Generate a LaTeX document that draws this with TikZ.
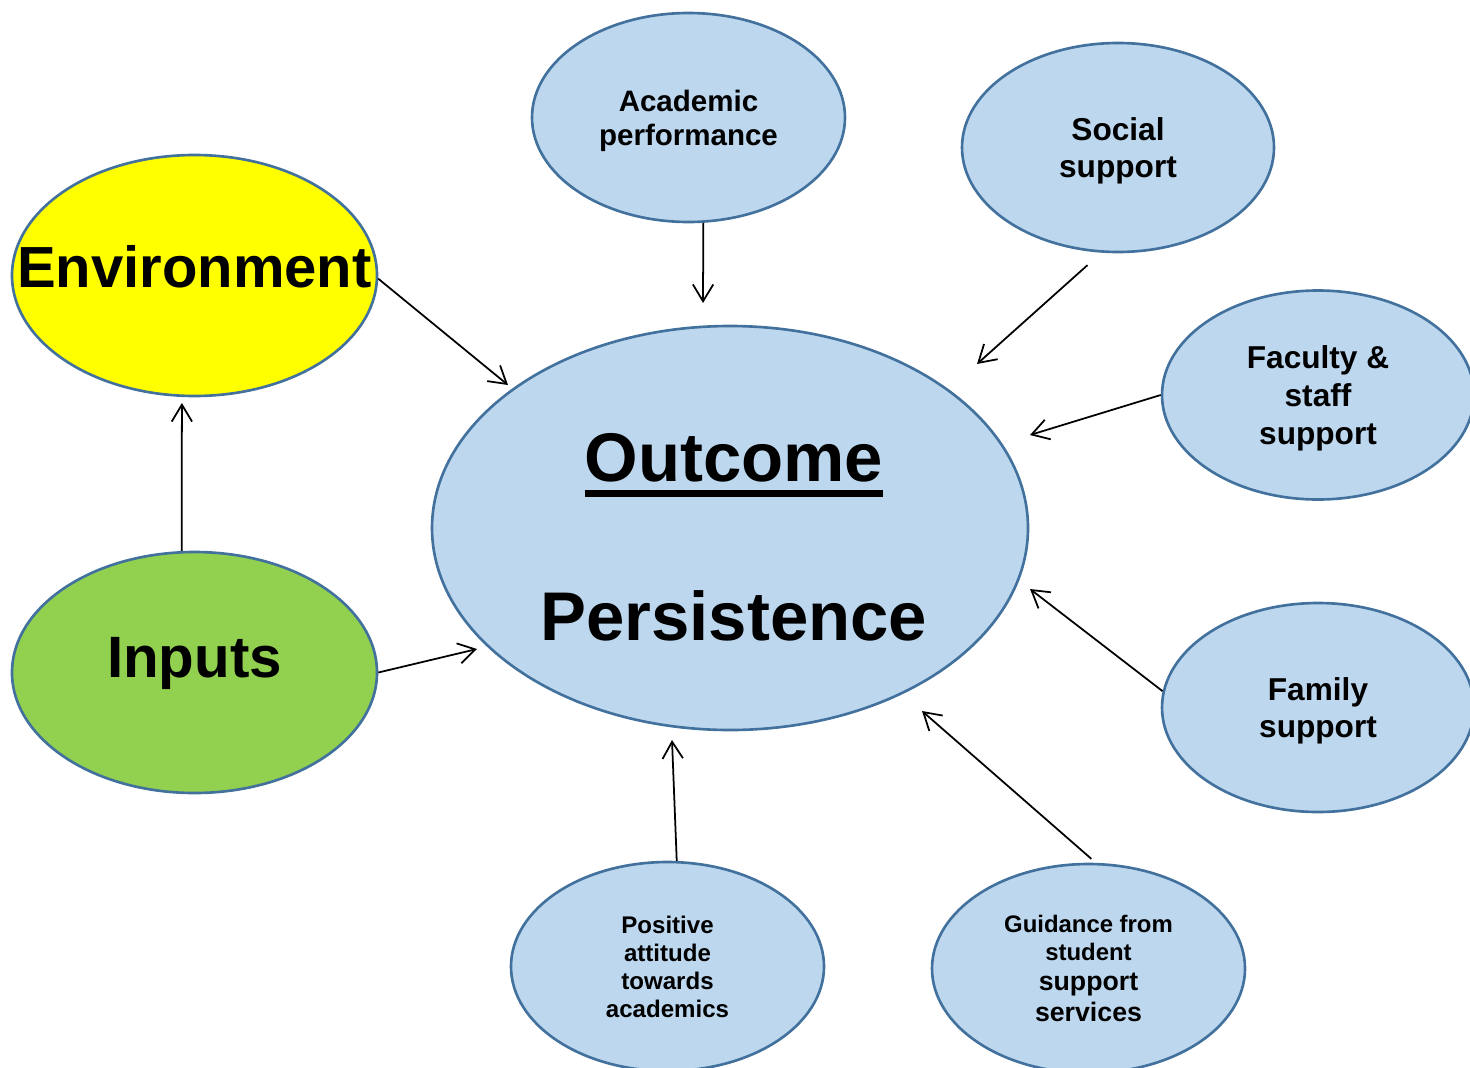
\documentclass[tikz,border=0pt]{standalone}
\usepackage{fontspec}
\setmainfont{Liberation Sans}
\usetikzlibrary{shapes.geometric, arrows.meta}

\definecolor{bubblefill}{HTML}{BDD7EE}
\definecolor{bubbleline}{HTML}{41719C}
\definecolor{envyellow}{HTML}{FFFF00}
\definecolor{inpgreen}{HTML}{92D050}

% heavy underline for the outcome heading
\newcommand{\thickul}[1]{\vtop{\hbox{#1}\kern2.3pt\hrule height 2pt}}

\begin{document}
\begin{tikzpicture}[>={Straight Barb[length=4.8pt,width=5.8pt]},
  bubble/.style={ellipse, draw=bubbleline, line width=0.75pt, fill=bubblefill,
    inner sep=0pt, align=center},
  small/.style={bubble, minimum width=3.13cm, minimum height=2.09cm, text depth=0pt},
  big/.style={bubble, minimum width=3.65cm, minimum height=2.41cm},
  link/.style={->, line width=0.5pt}]
  \useasboundingbox (0,0) rectangle (14.7,10.67);
  \clip (0,0) rectangle (14.7,10.67);

  % left column: environment and inputs (wide words may overrun the rim)
  \node[big, fill=envyellow, text depth=5.1pt,
        font=\bfseries\fontsize{16.5}{19}\selectfont] (env) at (1.945,7.915) {\makebox[0pt]{Environment}};
  \node[big, fill=inpgreen, text depth=8.5pt,
        font=\bfseries\fontsize{16.6}{19}\selectfont] (inp) at (1.945,3.945) {\makebox[0pt]{Inputs}};

  % central outcome
  \node[bubble, minimum width=5.96cm, minimum height=4.04cm, text depth=0pt,
        font=\bfseries\fontsize{19.6}{45.2}\selectfont] (outc) at (7.30,5.39)
        {\rule{0pt}{18.6pt}\hspace*{2.2pt}\thickul{Outcome}\\\hspace*{2.2pt}Persistence};

  % support factors around it
  \node[small, font=\bfseries\fontsize{8.4}{9.7}\selectfont] (acad) at (6.885,9.495)
        {Academic\\performance};
  \node[small, minimum width=3.12cm, font=\bfseries\fontsize{9}{10.7}\selectfont] (soc) at (11.18,9.195)
        {Social\\support};
  \node[small, minimum width=3.12cm, font=\bfseries\fontsize{9}{10.7}\selectfont] (fac) at (13.18,6.72)
        {Faculty \&\\staff\\support};
  \node[small, minimum width=3.12cm, font=\bfseries\fontsize{9}{10.7}\selectfont] (fam) at (13.18,3.595)
        {Family\\support};
  \node[small, font=\bfseries\fontsize{6.85}{8}\selectfont] (pos) at (6.675,1.005)
        {Positive\\attitude\\towards\\academics};
  \node[small, font=\bfseries\fontsize{6.8}{8}\selectfont] (gui) at (10.885,0.985)
        {Guidance from\\student\\[0.5pt]{\fontsize{7.6}{8.8}\selectfont support}\\[0.8pt]{\fontsize{7.6}{8.8}\selectfont services}};

  % arrow tips stop short of the outcome
  \coordinate (envtip) at (5.08,6.82);
  \coordinate (acadtip) at (7.03,7.64);
  \coordinate (soctip) at (9.77,7.03);
  \coordinate (factip) at (10.30,6.32);
  \coordinate (famtip) at (10.30,4.78);
  \coordinate (guitip) at (9.22,3.56);
  \coordinate (postip) at (6.72,3.27);
  \coordinate (inptip) at (4.77,4.18);
  \coordinate (uptip) at (1.819,6.64);

  % connectors
  \draw[link] (env.-1) -- (envtip);
  \draw[link] (acad.-82) -- (acadtip);
  \draw[link, shorten <=0.186cm] (soc.-99) -- (soctip);
  \draw[link] (fac.west) -- (factip);
  \draw[link] (fam.174) -- (famtip);
  \draw[link, shorten <=0.06cm] (gui.86) -- (guitip);
  \draw[link] (pos.85) -- (postip);
  \draw[link] (inp.east) -- (inptip);
  \draw[link] (inp.96) -- (uptip);
\end{tikzpicture}
\end{document}
